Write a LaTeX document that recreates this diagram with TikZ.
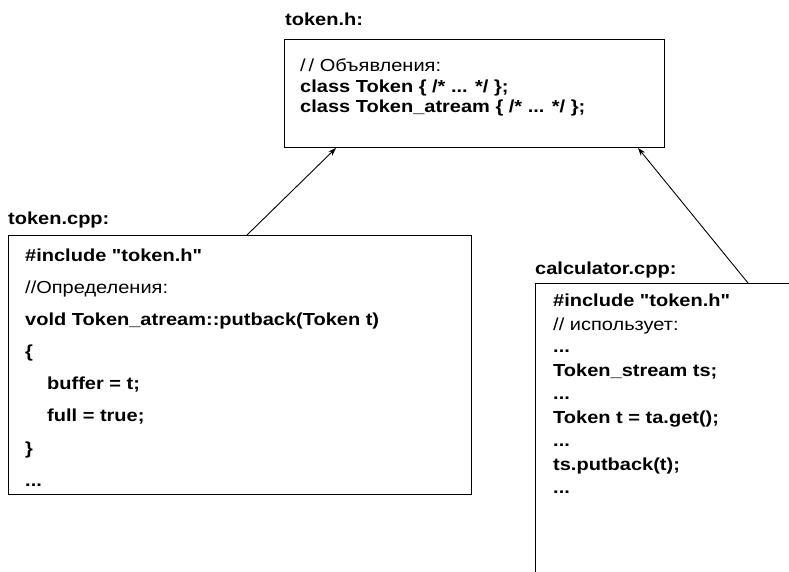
\documentclass[tikz,border=0pt]{standalone}
\usepackage{fontspec}
\setmainfont{Liberation Sans}[FakeStretch=1.15, Ligatures=TeXOff]
\usetikzlibrary{arrows.meta}
\newcommand{\dq}{\symbol{34}}
\begin{document}
\begin{tikzpicture}[x=1pt,y=-1pt,
  box/.style={draw, line width=1pt, anchor=north west, inner sep=0pt, rectangle},
  codeline/.style={anchor=base west, inner sep=0pt, font=\fontsize{17.4}{20}\selectfont\bfseries},
  commentline/.style={anchor=base west, inner sep=0pt, font=\fontsize{17.4}{20}\selectfont},
  filelabel/.style={anchor=base west, inner sep=0pt, font=\fontsize{17.4}{20}\selectfont\bfseries},
  arr/.style={line width=0.9pt, -{Stealth[length=8pt,width=5.5pt]}}]
\useasboundingbox (0,0) rectangle (789,572);
\clip (0,0) rectangle (789,572);
% boxes
\node[box, minimum width=380pt, minimum height=108pt] (th) at (284,39) {};
\node[box, minimum width=463pt, minimum height=259pt] (tc) at (8,235) {};
\node[box, minimum width=265pt, minimum height=310pt] (cc) at (535,283) {};
% labels
\node[filelabel] (lth) at (285,26) {token.h:};
\node[filelabel] (ltc) at (8,224) {token.cpp:};
\node[filelabel] (lcc) at (535,274) {calculator.cpp:};
% token.h
\node[commentline] (th1) at (300,72) {/\,/ Объявления:};
\node[codeline] (th2) at (300,93) {class Token \{ /* ... */ \};};
\node[codeline] (th3) at (300,113) {class Token\_atream \{ /* ... */ \};};
% token.cpp
\node[codeline] (tc1) at (25,261) {\#include \dq token.h\dq};
\node[commentline] (tc2) at (25,293) {//Определения:};
\node[codeline] (tc3) at (25,325) {vold Token\_atream::putback(Token t)};
\node[codeline] (tc4) at (25,357) {\{};
\node[codeline] (tc5) at (47,389) {buffer = t;};
\node[codeline] (tc6) at (47,421) {full = true;};
\node[codeline] (tc7) at (25,454) {\}};
\node[codeline] (tc8) at (25,486) {...};
% calculator.cpp
\node[codeline] (cc1) at (553,306) {\#include \dq token.h\dq};
\node[commentline] (cc2) at (553,330) {// использует:};
\node[codeline] (cc3) at (553,352) {...};
\node[codeline] (cc4) at (553,376) {Token\_stream ts;};
\node[codeline] (cc5) at (553,399) {...};
\node[codeline] (cc6) at (553,423) {Token t = ta.get();};
\node[codeline] (cc7) at (553,446) {...};
\node[codeline] (cc8) at (553,470) {ts.putback(t);};
\node[codeline] (cc9) at (553,493) {...};
% connectors
\draw[arr] (247,0 |- tc.north) -- (336,0 |- th.south);
\draw[arr] (748,0 |- cc.north) -- (638,0 |- th.south);
\end{tikzpicture}
\end{document}
